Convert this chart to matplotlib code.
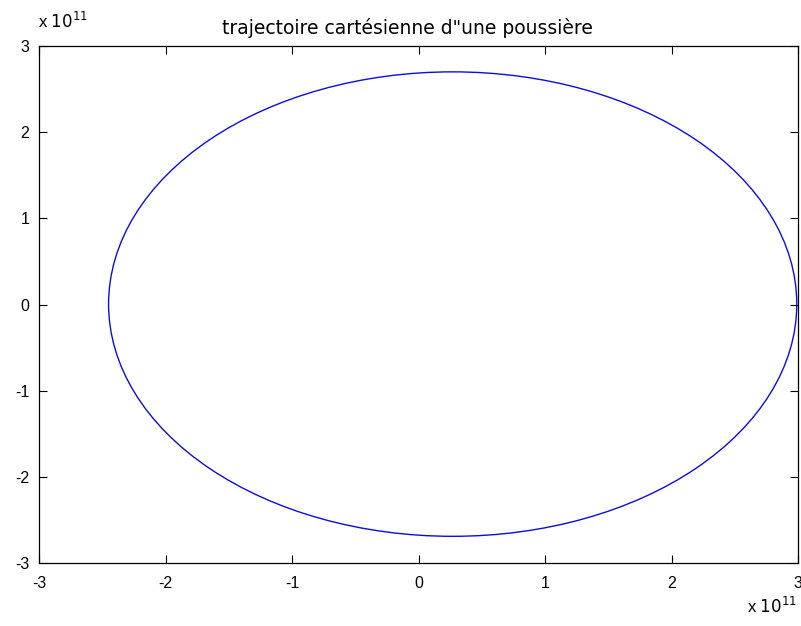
import matplotlib
matplotlib.use("Agg")
import matplotlib.pyplot as plt
from matplotlib.patches import Ellipse

plt.rcParams['font.family'] = ['Liberation Sans', 'DejaVu Sans']

# extremes of the dust grain orbit (m)
x_left = -2.45e11
x_right = 2.99e11
y_top = 2.70e11
y_bottom = -2.69e11

ticks = [-3, -2, -1, 0, 1, 2, 3]
scale = 1e11

fig = plt.figure(figsize=(8.01, 6.26), dpi=100)
ax = fig.add_axes([0.0487, 0.1006, 0.9476, 0.8259])

orbit = Ellipse(((x_left + x_right) / 2, (y_top + y_bottom) / 2),
                width=x_right - x_left, height=y_top - y_bottom,
                fill=False, edgecolor=(0.05, 0.05, 0.85), linewidth=1.0)
ax.add_patch(orbit)

ax.set_xlim(-3 * scale, 3 * scale)
ax.set_ylim(-3 * scale, 3 * scale)
ax.set_xticks([t * scale for t in ticks])
ax.set_yticks([t * scale for t in ticks])
ax.set_xticklabels([str(t) for t in ticks])
ax.set_yticklabels([str(t) for t in ticks])
ax.tick_params(direction='in', length=6, width=0.8, labelsize=11.5,
               top=True, right=True)
ax.tick_params(axis='x', pad=9)
ax.tick_params(axis='y', pad=7)
for s in ax.spines.values():
    s.set_linewidth(0.9)

ax.set_title("trajectoire cartésienne d\"une poussière", fontsize=13.5,
             family='DejaVu Sans', pad=9, x=0.485)

# exponent labels, MATLAB style
fig.text(0.048, 0.950, r'x $10^{11}$', fontsize=12, ha='left', va='bottom')
fig.text(0.995, 0.016, r'x $10^{11}$', fontsize=12, ha='right', va='bottom')

fig.savefig("out.png", dpi=100)
